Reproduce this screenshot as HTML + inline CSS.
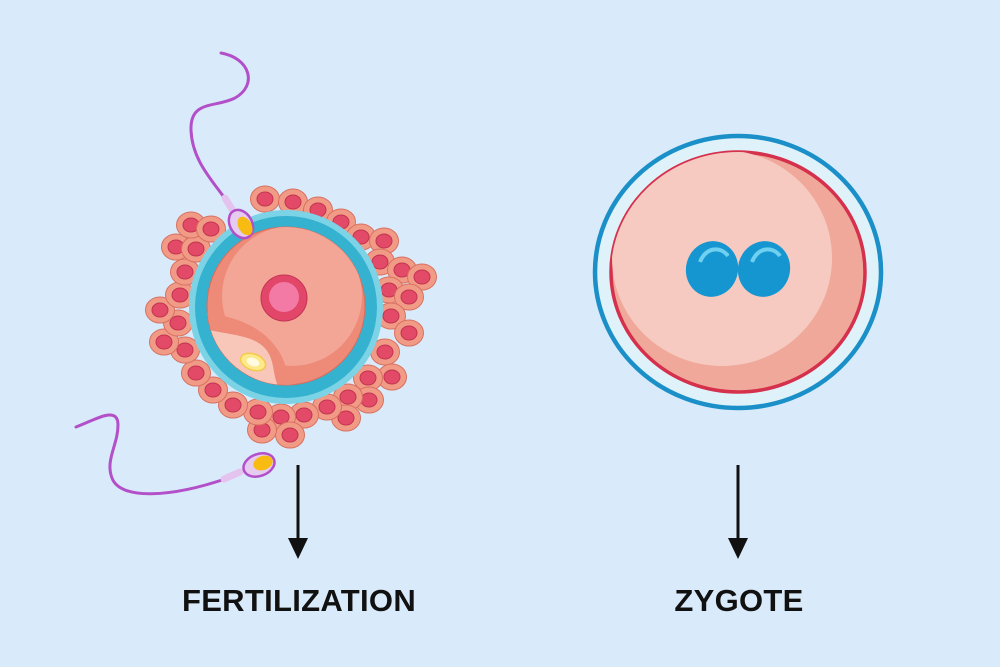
<!DOCTYPE html>
<html><head><meta charset="utf-8"><style>
html,body{margin:0;padding:0;background:#d9ebfa}
svg{display:block}
</style></head><body>
<svg width="1000" height="667" viewBox="0 0 1000 667" xmlns="http://www.w3.org/2000/svg">
<rect width="1000" height="667" fill="#d9ebfa"/>
<defs>
<clipPath id="egg"><circle cx="286" cy="306" r="79"/></clipPath>
<clipPath id="zy"><ellipse cx="738" cy="272" rx="127" ry="120"/></clipPath>
<g id="cell"><ellipse rx="14.5" ry="13" fill="#f19b87" stroke="#d8705f" stroke-width="1"/><ellipse rx="8" ry="7" fill="#e24a68" stroke="#c23450" stroke-width="1"/></g>
</defs>
<g>
<use href="#cell" x="265" y="199"/><use href="#cell" x="293" y="202"/><use href="#cell" x="318" y="210"/><use href="#cell" x="341" y="222"/><use href="#cell" x="361" y="237"/><use href="#cell" x="384" y="241"/><use href="#cell" x="380" y="262"/><use href="#cell" x="402" y="270"/><use href="#cell" x="422" y="277"/><use href="#cell" x="389" y="290"/><use href="#cell" x="409" y="297"/><use href="#cell" x="391" y="316"/><use href="#cell" x="409" y="333"/><use href="#cell" x="385" y="352"/><use href="#cell" x="392" y="377"/><use href="#cell" x="368" y="378"/><use href="#cell" x="369" y="400"/><use href="#cell" x="348" y="397"/><use href="#cell" x="346" y="418"/><use href="#cell" x="327" y="407"/><use href="#cell" x="304" y="415"/><use href="#cell" x="281" y="417"/><use href="#cell" x="290" y="435"/><use href="#cell" x="262" y="430"/><use href="#cell" x="258" y="412"/><use href="#cell" x="233" y="405"/><use href="#cell" x="213" y="390"/><use href="#cell" x="196" y="373"/><use href="#cell" x="185" y="350"/><use href="#cell" x="164" y="342"/><use href="#cell" x="178" y="323"/><use href="#cell" x="160" y="310"/><use href="#cell" x="180" y="295"/><use href="#cell" x="185" y="272"/><use href="#cell" x="176" y="247"/><use href="#cell" x="196" y="249"/><use href="#cell" x="191" y="225"/><use href="#cell" x="211" y="229"/>
</g>
<circle cx="286" cy="307" r="97" fill="#7dd3e6"/>
<circle cx="286" cy="307" r="91" fill="#35b2d0"/>
<circle cx="286" cy="306" r="79" fill="#ed8a78" stroke="#d76d5c" stroke-width="1"/>
<g clip-path="url(#egg)">
<circle cx="292" cy="296" r="70" fill="#f3a596"/>
<path d="M200 312 C235 316 262 326 278 350 C290 368 286 386 304 396 L200 410 Z" fill="#ed8a78"/>
<path d="M200 328 C232 336 260 334 270 356 C276 370 272 384 286 396 L200 410 Z" fill="#f9c6ba"/>
</g>
<ellipse cx="253" cy="362" rx="13" ry="8" transform="rotate(20 253 362)" fill="#fde98a" stroke="#f3c94a" stroke-width="1.5"/>
<ellipse cx="253" cy="362" rx="6.5" ry="4" transform="rotate(20 253 362)" fill="#fffbe0"/>
<circle cx="284" cy="298" r="23" fill="#e2476a" stroke="#c33452" stroke-width="1"/>
<circle cx="284" cy="297" r="15" fill="#f27aa5"/>
<path d="M221 53 C250 58 258 85 235 98 C215 108 190 100 191 130 C192 160 212 180 226 200" fill="none" stroke="#b24fc9" stroke-width="3" stroke-linecap="round"/>
<path d="M225 198 L233 211" stroke="#e4c4ee" stroke-width="7" stroke-linecap="round"/>
<ellipse cx="241" cy="224" rx="11" ry="15" transform="rotate(-30 241 224)" fill="#e6cbf1" stroke="#b24fc9" stroke-width="2.5"/>
<ellipse cx="245" cy="226" rx="6.5" ry="10" transform="rotate(-30 245 226)" fill="#f7bb12"/>
<path d="M76 427 C95 420 118 405 118 425 C118 445 105 460 112 478 C120 500 170 498 228 478" fill="none" stroke="#b24fc9" stroke-width="3" stroke-linecap="round"/>
<path d="M224 479 L240 472" stroke="#e4c4ee" stroke-width="7" stroke-linecap="round"/>
<ellipse cx="259" cy="465" rx="16" ry="11" transform="rotate(-20 259 465)" fill="#e6cbf1" stroke="#b24fc9" stroke-width="2.5"/>
<ellipse cx="263" cy="463" rx="10" ry="7" transform="rotate(-20 263 463)" fill="#f7bb12"/>
<ellipse cx="738" cy="272" rx="143" ry="136" fill="#dff2fa" stroke="#1a8fc8" stroke-width="4.5"/>
<ellipse cx="738" cy="272" rx="127" ry="120" fill="#f0a89a" stroke="#d5304c" stroke-width="3.5"/>
<g clip-path="url(#zy)">
<ellipse cx="722" cy="258" rx="110" ry="108" fill="#f6cac0"/>
</g>
<ellipse cx="712" cy="269" rx="26" ry="28" transform="rotate(15 712 269)" fill="#1596d0"/>
<ellipse cx="764" cy="269" rx="26" ry="28" transform="rotate(15 764 269)" fill="#1596d0"/>
<path d="M700 262 C705 248 720 245 728 256" fill="none" stroke="#6fd0f0" stroke-width="4"/>
<path d="M752 262 C757 248 772 245 780 256" fill="none" stroke="#6fd0f0" stroke-width="4"/>
<line x1="298" y1="465" x2="298" y2="542" stroke="#111" stroke-width="3"/>
<polygon points="288,538 308,538 298,559" fill="#111"/>
<line x1="738" y1="465" x2="738" y2="542" stroke="#111" stroke-width="3"/>
<polygon points="728,538 748,538 738,559" fill="#111"/>
<text x="299" y="611" text-anchor="middle" font-family="Liberation Sans, sans-serif" font-weight="bold" font-size="31" letter-spacing="0.3" fill="#111">FERTILIZATION</text>
<text x="739" y="611" text-anchor="middle" font-family="Liberation Sans, sans-serif" font-weight="bold" font-size="31" letter-spacing="0.3" fill="#111">ZYGOTE</text>
</svg>
</body></html>
